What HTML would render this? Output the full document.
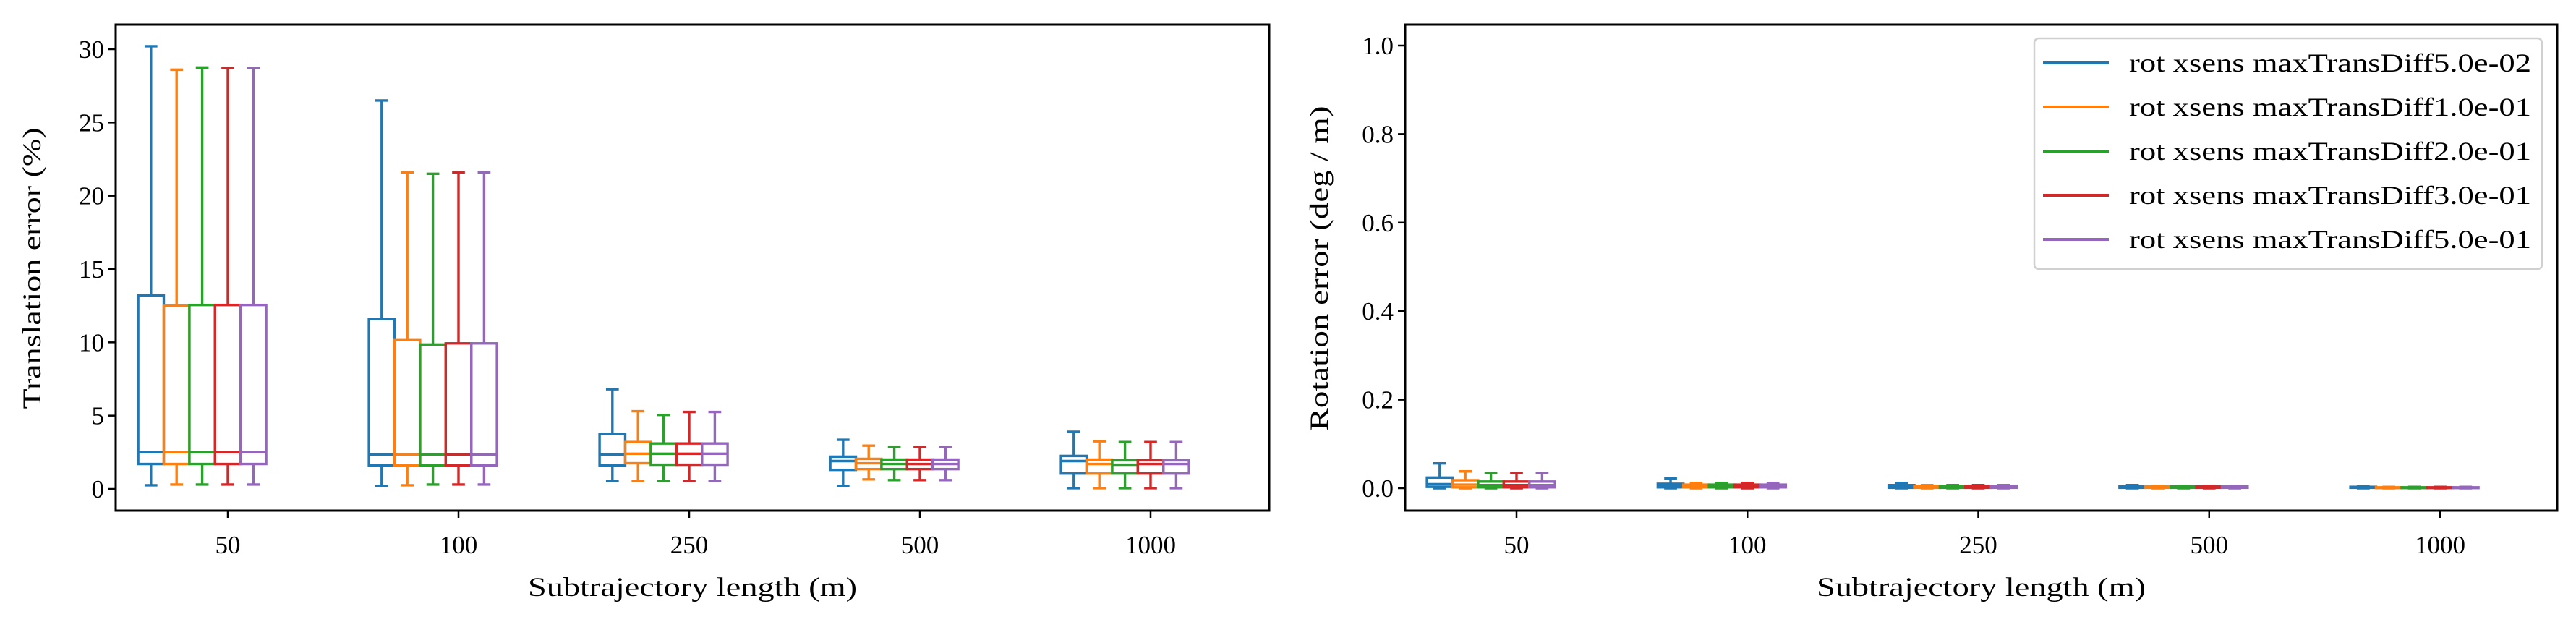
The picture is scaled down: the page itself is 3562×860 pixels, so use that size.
<!DOCTYPE html>
<html><head><meta charset="utf-8"><style>
html,body{margin:0;padding:0;background:#fff}
svg{display:block}
text{font-family:"Liberation Serif",serif;fill:#000}
</style></head><body>
<svg id="chart" width="3562" height="860" viewBox="0 0 3562 860" xmlns="http://www.w3.org/2000/svg"></svg>
<script>
const categories = ["50","100","250","500","1000"];
const seriesNames = ["rot xsens maxTransDiff5.0e-02","rot xsens maxTransDiff1.0e-01","rot xsens maxTransDiff2.0e-01","rot xsens maxTransDiff3.0e-01","rot xsens maxTransDiff5.0e-01"];
const colors = ["#1f77b4","#ff7f0e","#2ca02c","#d62728","#9467bd"];
// [low, q1, median, q3, high] per series per category
const transS0 = [[0.25,1.7,2.5,13.2,30.2],[0.2,1.6,2.35,11.6,26.5],[0.55,1.6,2.35,3.75,6.8],[0.2,1.3,1.9,2.2,3.35],[0.05,1.05,1.9,2.25,3.9]];
const transS1 = [[0.3,1.7,2.5,12.5,28.6],[0.25,1.6,2.35,10.15,21.6],[0.55,1.75,2.4,3.2,5.3],[0.65,1.35,1.75,2.05,2.95],[0.05,1.05,1.7,2.0,3.25]];
const transS2 = [[0.3,1.7,2.5,12.55,28.75],[0.3,1.6,2.35,9.85,21.5],[0.55,1.65,2.4,3.1,5.05],[0.6,1.35,1.7,2.0,2.85],[0.05,1.05,1.65,1.95,3.2]];
const transS3 = [[0.3,1.7,2.5,12.55,28.7],[0.3,1.6,2.35,9.93,21.6],[0.55,1.65,2.4,3.1,5.25],[0.6,1.35,1.7,2.0,2.85],[0.05,1.05,1.7,1.95,3.2]];
const transS4 = [[0.3,1.7,2.5,12.55,28.7],[0.3,1.6,2.35,9.93,21.6],[0.55,1.65,2.4,3.1,5.25],[0.6,1.35,1.7,2.0,2.85],[0.05,1.05,1.7,1.95,3.2]];
const rotS0 = [[0,0.003,0.009,0.024,0.056],[0,0.002,0.006,0.01,0.022],[0,0.001,0.004,0.007,0.012],[0,0.001,0.003,0.004,0.007],[0,0.001,0.002,0.003,0.004]];
const rotS1 = [[0,0.002,0.008,0.018,0.038],[0,0.002,0.005,0.008,0.012],[0,0.001,0.003,0.005,0.007],[0,0.001,0.002,0.004,0.005],[0,0.0005,0.001,0.002,0.003]];
const rotS2 = [[0,0.002,0.007,0.015,0.034],[0,0.002,0.005,0.008,0.012],[0,0.001,0.003,0.005,0.007],[0,0.001,0.002,0.004,0.005],[0,0.0005,0.001,0.002,0.003]];
const rotS3 = [[0,0.002,0.007,0.015,0.034],[0,0.002,0.005,0.008,0.012],[0,0.001,0.003,0.005,0.007],[0,0.001,0.002,0.004,0.005],[0,0.0005,0.001,0.002,0.003]];
const rotS4 = [[0,0.002,0.007,0.015,0.034],[0,0.002,0.005,0.008,0.012],[0,0.001,0.003,0.005,0.007],[0,0.001,0.002,0.004,0.005],[0,0.0005,0.001,0.002,0.003]];
const transTicks = [0,5,10,15,20,25,30];
const transTickLabels = ["0","5","10","15","20","25","30"];
const rotTicks = [0,0.2,0.4,0.6,0.8,1.0];
const rotTickLabels = ["0.0","0.2","0.4","0.6","0.8","1.0"];

const NS="http://www.w3.org/2000/svg";
const svg=document.getElementById('chart');
function mk(tag,attrs,parent){const e=document.createElementNS(NS,tag);for(const k in attrs)e.setAttribute(k,attrs[k]);(parent||svg).appendChild(e);return e;}

function panel(cfg){
  const g=mk('g',{});
  
  
  const {L,R,T,B,y0,y1,v0,v1,x0,dx}=cfg;
  const ys=v=>y0+(v-v0)*(y1-y0)/(v1-v0);
  const xs=i=>x0+i*dx;
  const bw=35.4;
  cfg.series.forEach((ser,s)=>{
    const sg=mk('g',{},g);
    
    
    ser.forEach((d,i)=>{
      const cx=xs(i)+(s-3)*bw;
      const c=colors[s];
      const bg=mk('g',{stroke:c,'stroke-width':3.4,fill:'none'},sg);
      
      
      mk('rect',{x:cx-bw/2,y:ys(d[3]),width:bw,height:Math.max(0.5,ys(d[1])-ys(d[3]))},bg);
      mk('line',{x1:cx-bw/2,x2:cx+bw/2,y1:ys(d[2]),y2:ys(d[2])},bg);
      mk('line',{x1:cx,x2:cx,y1:ys(d[3]),y2:ys(d[4])},bg);
      mk('line',{x1:cx,x2:cx,y1:ys(d[1]),y2:ys(d[0])},bg);
      mk('line',{x1:cx-bw/4,x2:cx+bw/4,y1:ys(d[4]),y2:ys(d[4])},bg);
      mk('line',{x1:cx-bw/4,x2:cx+bw/4,y1:ys(d[0]),y2:ys(d[0])},bg);
    });
  });
  const fr=mk('rect',{x:L,y:T,width:R-L,height:B-T,fill:'none',stroke:'#000','stroke-width':3},g);
  
  
  cfg.ticks.forEach((t,k)=>{
    const y=ys(t);
    mk('line',{x1:L-10,x2:L,y1:y,y2:y,stroke:'#000','stroke-width':2.5},g);
    const tx=mk('text',{x:L-16,y:y+12,'text-anchor':'end','font-size':35},g);
    
    
    tx.textContent=cfg.tickLabels[k];
  });
  categories.forEach((c,i)=>{
    const x=xs(i);
    mk('line',{x1:x,x2:x,y1:B,y2:B+10,stroke:'#000','stroke-width':2.5},g);
    const tx=mk('text',{x:x,y:765,'text-anchor':'middle','font-size':35},g);
    
    
    tx.textContent=c;
  });
  const xl=mk('text',{x:(L+R)/2,y:824,'text-anchor':'middle','font-size':37,textLength:455,lengthAdjust:'spacingAndGlyphs'},g);
  
  
  xl.textContent='Subtrajectory length (m)';
  const yl=mk('text',{x:0,y:0,'text-anchor':'middle','font-size':36,textLength:cfg.ylen,lengthAdjust:'spacingAndGlyphs',transform:`translate(${cfg.ylx},${cfg.ylc}) rotate(-90)`},g);
  
  
  yl.textContent=cfg.ylabel;
}

panel({name:'translation-panel',L:160,R:1755,T:34,B:706,y0:676,y1:68,v0:0,v1:30,x0:315,dx:319,
  series:[transS0,transS1,transS2,transS3,transS4],ticks:transTicks,tickLabels:transTickLabels,ylx:56,ylc:371,ylen:389,ylabel:'Translation error (%)'});
panel({name:'rotation-panel',L:1943,R:3536,T:34,B:706,y0:675,y1:63,v0:0,v1:1,x0:2097,dx:319.25,
  series:[rotS0,rotS1,rotS2,rotS3,rotS4],ticks:rotTicks,tickLabels:rotTickLabels,ylx:1836,ylc:371,ylen:449,ylabel:'Rotation error (deg / m)'});

const lg=mk('g',{});


mk('rect',{x:2813,y:53,width:702,height:319,rx:6,fill:'#fff','fill-opacity':0.8,stroke:'#d0d0d0','stroke-width':2.5},lg);
seriesNames.forEach((n,s)=>{
  const y=87+s*61;
  const e=mk('g',{},lg);
  
  
  mk('line',{x1:2825,x2:2916,y1:y,y2:y,stroke:colors[s],'stroke-width':4},e);
  const t=mk('text',{x:2944,y:y+12,'font-size':36,textLength:556,lengthAdjust:'spacingAndGlyphs'},e);
  t.textContent=n;
});
</script>
</body></html>
